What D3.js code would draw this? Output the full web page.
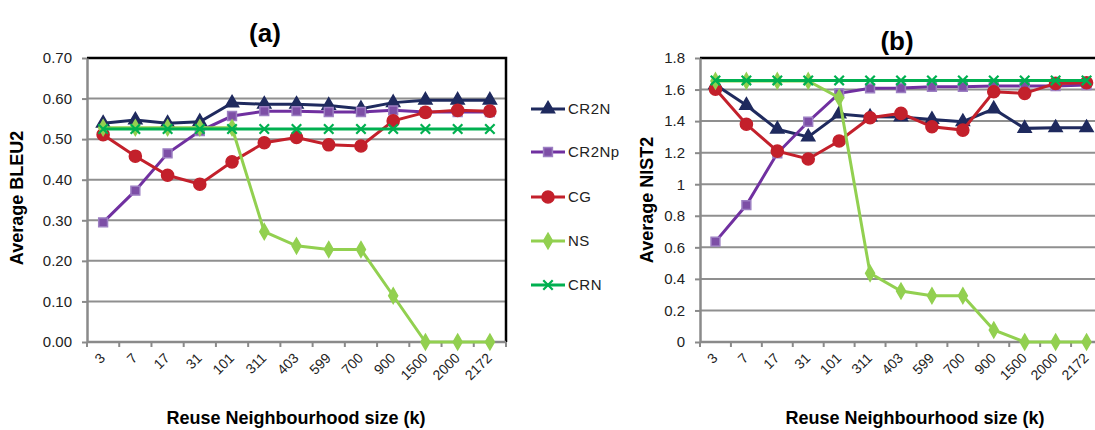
<!DOCTYPE html>
<html>
<head>
<meta charset="utf-8">
<script src="https://cdn.jsdelivr.net/npm/d3@7"></script>
<style>
  body { margin: 0; background: #fff; }
  svg { font-family: "Liberation Sans", Arial, sans-serif; display: block; }
</style>
</head>
<body>
<svg id="chart" width="1095" height="430"></svg>
<script>
// data
var categories = ["3", "7", "17", "31", "101", "311", "403", "599", "700", "900", "1500", "2000", "2172"];
var seriesNames = ["CR2N", "CR2Np", "CG", "NS", "CRN"];

var bleuCR2N  = [0.539, 0.547, 0.539, 0.543, 0.589, 0.586, 0.586, 0.583, 0.575, 0.590, 0.596, 0.596, 0.596];
var bleuCR2Np = [0.295, 0.373, 0.465, 0.520, 0.557, 0.569, 0.569, 0.567, 0.567, 0.571, 0.567, 0.567, 0.567];
var bleuCG    = [0.511, 0.458, 0.411, 0.389, 0.444, 0.491, 0.504, 0.486, 0.483, 0.545, 0.566, 0.571, 0.569];
var bleuNS    = [0.528, 0.528, 0.528, 0.528, 0.528, 0.272, 0.237, 0.228, 0.228, 0.114, 0.000, 0.000, 0.000];
var bleuCRN   = [0.525, 0.525, 0.525, 0.525, 0.525, 0.525, 0.525, 0.525, 0.525, 0.525, 0.525, 0.525, 0.525];

var nistCR2N  = [1.630, 1.500, 1.348, 1.300, 1.445, 1.427, 1.426, 1.410, 1.396, 1.477, 1.354, 1.358, 1.358];
var nistCR2Np = [0.636, 0.868, 1.196, 1.396, 1.576, 1.608, 1.610, 1.618, 1.618, 1.622, 1.622, 1.622, 1.629];
var nistCG    = [1.603, 1.380, 1.210, 1.160, 1.274, 1.421, 1.449, 1.364, 1.343, 1.586, 1.576, 1.639, 1.643];
var nistNS    = [1.655, 1.655, 1.655, 1.655, 1.548, 0.435, 0.323, 0.293, 0.293, 0.076, 0.000, 0.000, 0.000];
var nistCRN   = [1.658, 1.658, 1.658, 1.658, 1.658, 1.658, 1.658, 1.658, 1.658, 1.658, 1.658, 1.658, 1.658];

var bleuTicks = [0, 0.1, 0.2, 0.3, 0.4, 0.5, 0.6, 0.7];
var nistTicks = [0, 0.2, 0.4, 0.6, 0.8, 1.0, 1.2, 1.4, 1.6, 1.8];

var lineColor = { CR2N: "#1f2a5e", CR2Np: "#7030a0", CG: "#c3202b", NS: "#92d050", CRN: "#00b050" };
var markFill  = { CR2N: "#1f2a5e", CR2Np: "#7d4fa6", CG: "#c3202b", NS: "#92d050", CRN: "none" };
var markStroke = { CR2N: "#1f2a5e", CR2Np: "#9c7fc2", CG: "#c3202b", NS: "#92d050", CRN: "#00b050" };
var symbolOf = {
  CR2N: d3.symbol().type(d3.symbolTriangle).size(75),
  CR2Np: d3.symbol().type(d3.symbolSquare).size(78),
  CG: d3.symbol().type(d3.symbolCircle).size(115),
  NS: d3.symbol().type(d3.symbolDiamond).size(70),
  CRN: d3.symbol().type(d3.symbolX).size(60)
};

var svg = d3.select("#chart");

function drawPanel(opt) {
  var g = svg.append("g");
  var x = d3.scaleBand().domain(categories).range([opt.left, opt.right]);
  var y = d3.scaleLinear().domain([0, opt.yMax]).range([opt.bottom, opt.top]);
  var half = x.bandwidth() / 2;

  // gridlines
  g.append("g").selectAll("line")
    .data(opt.ticks.slice(1, -1))
    .enter().append("line")
    .attr("x1", opt.left).attr("x2", opt.right)
    .attr("y1", function(d) { return y(d); })
    .attr("y2", function(d) { return y(d); })
    .attr("stroke", "#8f8f8f").attr("stroke-width", 2);

  // black frame top / right
  g.append("path")
    .attr("d", "M" + opt.left + "," + y(opt.yMax) + "H" + opt.right + "V" + opt.bottom)
    .attr("fill", "none").attr("stroke", "#000").attr("stroke-width", 2.5);

  // y axis
  var yAxis = g.append("g")
    .attr("transform", "translate(" + opt.left + ",0)")
    .call(d3.axisLeft(y).tickValues(opt.ticks).tickSize(5).tickSizeOuter(0).tickPadding(10).tickFormat(opt.fmt));
  yAxis.select(".domain").attr("stroke", "#8a8a8a").attr("stroke-width", 2.5);
  yAxis.selectAll(".tick line").attr("stroke", "#8a8a8a").attr("stroke-width", 2);
  yAxis.selectAll(".tick text").attr("font-size", 15).attr("fill", "#222")
    .attr("font-family", "Liberation Sans, Arial, sans-serif");

  // x axis line and ticks at band edges
  g.append("line")
    .attr("x1", opt.left).attr("x2", opt.right)
    .attr("y1", opt.bottom).attr("y2", opt.bottom)
    .attr("stroke", "#8a8a8a").attr("stroke-width", 2.5);
  var edges = categories.map(function(c) { return x(c); }).concat([opt.right]);
  g.append("g").selectAll("line")
    .data(edges)
    .enter().append("line")
    .attr("x1", function(d) { return d; }).attr("x2", function(d) { return d; })
    .attr("y1", opt.bottom).attr("y2", opt.bottom + 5)
    .attr("stroke", "#8a8a8a").attr("stroke-width", 2);

  g.append("g").selectAll("text")
    .data(categories)
    .enter().append("text")
    .attr("transform", function(d) { return "translate(" + (x(d) + half + 3) + "," + (opt.bottom + 17) + ") rotate(-45)"; })
    .attr("text-anchor", "end")
    .attr("font-size", 14)
    .attr("fill", "#222")
    .text(function(d) { return d; });

  // series
  var lineGen = d3.line()
    .x(function(d, i) { return x(categories[i]) + half; })
    .y(function(d) { return y(d); });

  seriesNames.forEach(function(name, k) {
    var vals = opt.series[k];
    var sg = g.append("g");
    sg.append("path")
      .attr("d", lineGen(vals))
      .attr("fill", "none")
      .attr("stroke", lineColor[name])
      .attr("stroke-width", 3);
    sg.selectAll("path.m")
      .data(vals)
      .enter().append("path")
      .attr("class", "m")
      .attr("transform", function(d, i) { return "translate(" + (x(categories[i]) + half) + "," + y(d) + ")"; })
      .attr("d", symbolOf[name])
      .attr("fill", markFill[name])
      .attr("stroke", markStroke[name])
      .attr("stroke-width", name === "CRN" ? 2.2 : 1.5);
  });

  // titles
  g.append("text")
    .attr("x", opt.titleX).attr("y", opt.titleY)
    .attr("text-anchor", "middle")
    .attr("font-size", 26).attr("font-weight", "bold")
    .text(opt.title);

  g.append("text")
    .attr("transform", "translate(" + opt.yTitleX + "," + opt.yTitleY + ") rotate(-90)")
    .attr("text-anchor", "middle")
    .attr("font-size", 18).attr("font-weight", "bold")
    .text(opt.yTitle);

  g.append("text")
    .attr("x", opt.xTitleX).attr("y", 424)
    .attr("text-anchor", "middle")
    .attr("font-size", 18).attr("font-weight", "bold")
    .text("Reuse Neighbourhood size (k)");
}

drawPanel({
  left: 87, right: 506, top: 58, bottom: 342, yMax: 0.7, ticks: bleuTicks,
  fmt: d3.format(".2f"),
  series: [bleuCR2N, bleuCR2Np, bleuCG, bleuNS, bleuCRN],
  title: "(a)", titleX: 265, titleY: 42,
  yTitle: "Average BLEU2", yTitleX: 23, yTitleY: 198,
  xTitleX: 296
});

drawPanel({
  left: 700, right: 1102, top: 58, bottom: 342, yMax: 1.8, ticks: nistTicks,
  fmt: function(d) { return String(+d.toFixed(1)); },
  series: [nistCR2N, nistCR2Np, nistCG, nistNS, nistCRN],
  title: "(b)", titleX: 897, titleY: 50,
  yTitle: "Average NIST2", yTitleX: 653, yTitleY: 200,
  xTitleX: 915
});

// legend
var legend = svg.append("g").selectAll("g")
  .data(seriesNames)
  .enter().append("g")
  .attr("transform", function(d, i) { return "translate(531," + [109, 152, 197, 241, 285][i] + ")"; });

legend.append("line")
  .attr("x1", 0).attr("x2", 34)
  .attr("stroke", function(d) { return lineColor[d]; })
  .attr("stroke-width", 3);
legend.append("path")
  .attr("transform", "translate(17,0)")
  .attr("d", function(d) { return symbolOf[d](); })
  .attr("fill", function(d) { return markFill[d]; })
  .attr("stroke", function(d) { return markStroke[d]; })
  .attr("stroke-width", function(d) { return d === "CRN" ? 2.2 : 1.5; });
legend.append("text")
  .attr("x", 37).attr("dy", "0.35em")
  .attr("font-size", 15).attr("fill", "#222")
  .attr("letter-spacing", 0.5)
  .text(function(d) { return d; });
</script>
</body>
</html>
